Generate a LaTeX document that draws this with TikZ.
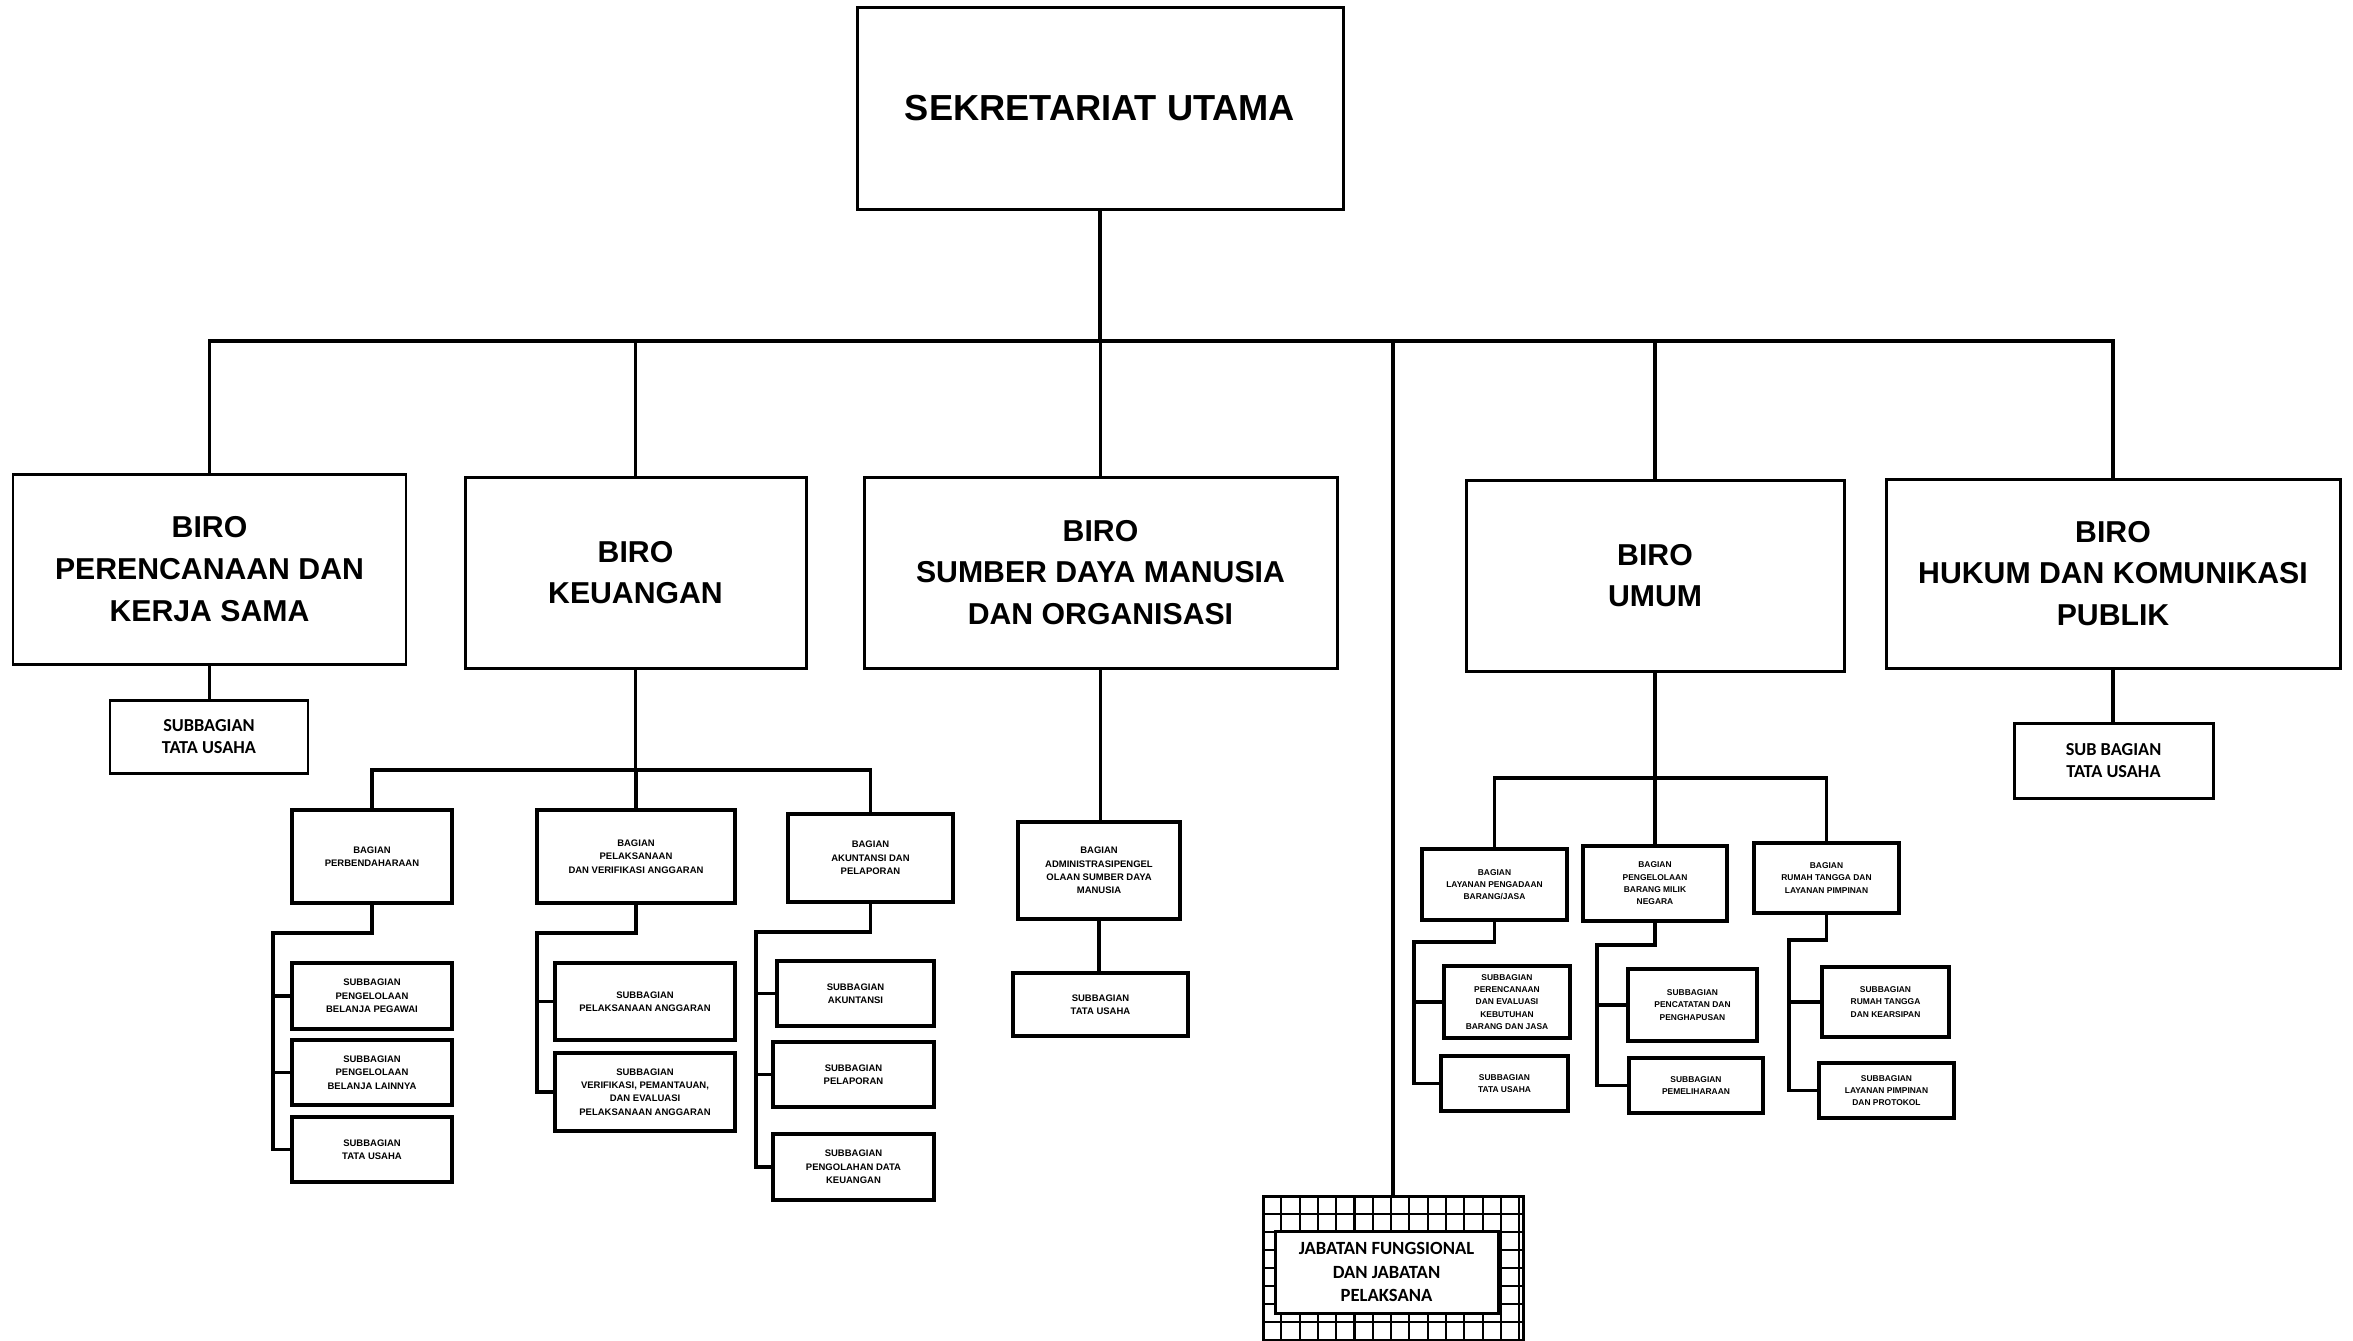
\documentclass[tikz,border=0pt]{standalone}
\usepackage{fontspec}
\setmainfont{Liberation Sans}
\newfontfamily\calibri{Carlito}
\tikzset{
  every picture/.style={line join=miter},
  box/.style={draw, line width=0.85pt, fill=white, inner sep=0pt, align=center},
  sz/.style 2 args={minimum width=#1mm, minimum height=#2mm},
  sekbox/.style={box, font=\bfseries\fontsize{10.3}{13}\selectfont},
  birobox/.style={box, font=\bfseries\fontsize{8.6}{11.9}\selectfont},
  bagbox/.style={box, line width=1.1pt, font=\bfseries\fontsize{2.7}{3.8}\selectfont},
  umbox/.style={bagbox, font=\bfseries\fontsize{2.4}{3.5}\selectfont},
  tubox/.style={box, font=\calibri\bfseries\fontsize{5.2}{6.2}\selectfont},
  jfbox/.style={box, font=\calibri\bfseries\fontsize{5.3}{6.8}\selectfont},
  link/.style={line width=0.95pt},
  gridline/.style={line width=0.6pt},
}

\begin{document}
\begin{tikzpicture}[x=0.1mm, y=-0.1mm]
\useasboundingbox (0,0) rectangle (2353,1340);

% pimpinan
\node[sekbox, sz={48.6}{20.2}] (sekum) at (1100,108) {SEKRETARIAT UTAMA};

% biro
\node[birobox, sz={39.3}{19}] (bpk) at (209.5,569) {BIRO\\PERENCANAAN DAN\\KERJA SAMA};
\node[birobox, sz={34.1}{19.1}] (bkeu) at (635.5,572.5) {BIRO\\KEUANGAN};
\node[birobox, sz={47.3}{19.1}] (bsdm) at (1100.5,572.5) {BIRO\\SUMBER DAYA MANUSIA\\DAN ORGANISASI};
\node[birobox, sz={37.8}{19.1}] (bumum) at (1655,575.5) {BIRO\\UMUM};
\node[birobox, sz={45.4}{18.9}] (bhkp) at (2113,573.5) {BIRO\\HUKUM DAN KOMUNIKASI\\PUBLIK};

% tata usaha biro
\node[tubox, sz={19.8}{7.3}] (pktu) at (209,736.5) {SUBBAGIAN\\TATA USAHA};
\node[tubox, sz={19.9}{7.5}] (hktu) at (2113.5,760.5) {SUB BAGIAN\\TATA USAHA};

% keuangan
\node[bagbox, sz={16}{9.3}] (perb) at (372,856.5) {BAGIAN\\PERBENDAHARAAN};
\node[bagbox, sz={19.8}{9.3}] (pva) at (636,856.5) {BAGIAN\\PELAKSANAAN\\DAN VERIFIKASI ANGGARAN};
\node[bagbox, sz={16.5}{8.8}] (akp) at (870.5,858) {BAGIAN\\AKUNTANSI DAN\\PELAPORAN};

\node[bagbox, sz={16}{6.6}] (pbp) at (372,996) {SUBBAGIAN\\PENGELOLAAN\\BELANJA PEGAWAI};
\node[bagbox, sz={16}{6.5}] (pbl) at (372,1072.5) {SUBBAGIAN\\PENGELOLAAN\\BELANJA LAINNYA};
\node[bagbox, sz={16}{6.5}] (ptu) at (372,1149.5) {SUBBAGIAN\\TATA USAHA};

\node[bagbox, sz={18}{7.7}] (spa) at (645,1001.5) {SUBBAGIAN\\PELAKSANAAN ANGGARAN};
\node[bagbox, sz={18}{7.8}] (vpe) at (645,1092) {SUBBAGIAN\\VERIFIKASI, PEMANTAUAN,\\DAN EVALUASI\\PELAKSANAAN ANGGARAN};

\node[bagbox, sz={15.7}{6.5}] (sak) at (855.5,993.5) {SUBBAGIAN\\AKUNTANSI};
\node[bagbox, sz={16.1}{6.5}] (slap) at (853.5,1074.5) {SUBBAGIAN\\PELAPORAN};
\node[bagbox, sz={16.1}{6.6}] (sold) at (853.5,1167) {SUBBAGIAN\\PENGOLAHAN DATA\\KEUANGAN};

% sdm
\node[bagbox, sz={16.2}{9.7}] (asdm) at (1099,870.5) {BAGIAN\\ADMINISTRASIPENGEL\\OLAAN SUMBER DAYA\\MANUSIA};
\node[bagbox, sz={17.5}{6.3}] (sdmtu) at (1100.5,1004.5) {SUBBAGIAN\\TATA USAHA};

% umum
\node[umbox, sz={14.5}{7.1}] (lpbj) at (1494.5,884.5) {BAGIAN\\LAYANAN PENGADAAN\\BARANG/JASA};
\node[umbox, sz={14.4}{7.5}] (bmn) at (1655,883.5) {BAGIAN\\PENGELOLAAN\\BARANG MILIK\\NEGARA};
\node[umbox, sz={14.5}{7}] (rtlp) at (1826.5,878) {BAGIAN\\RUMAH TANGGA DAN\\LAYANAN PIMPINAN};

\node[umbox, sz={12.6}{7.2}] (pebj) at (1507,1002) {SUBBAGIAN\\PERENCANAAN\\DAN EVALUASI\\KEBUTUHAN\\BARANG DAN JASA};
\node[umbox, sz={12.7}{5.5}] (umtu) at (1504.5,1083.5) {SUBBAGIAN\\TATA USAHA};
\node[umbox, sz={12.9}{7.2}] (spp) at (1692.5,1005) {SUBBAGIAN\\PENCATATAN DAN\\PENGHAPUSAN};
\node[umbox, sz={13.4}{5.5}] (spml) at (1696,1085.5) {SUBBAGIAN\\PEMELIHARAAN};
\node[umbox, sz={12.7}{7}] (srtk) at (1885.5,1002) {SUBBAGIAN\\RUMAH TANGGA\\DAN KEARSIPAN};
\node[umbox, sz={13.5}{5.5}] (slpp) at (1886.5,1090.5) {SUBBAGIAN\\LAYANAN PIMPINAN\\DAN PROTOKOL};

% jabatan fungsional
\node[draw, line width=0.85pt, sz={26}{20}] (jfgrid) at (1393,1296) {};
\foreach \gx in {1281.3,1299.6,...,1523} \draw[gridline] (\gx,1196) -- (\gx,1345);
\foreach \gy in {1214,1232,...,1345} \draw[gridline] (1263,\gy) -- (1523,\gy);
\node[jfbox, sz={22.3}{8.2}] (jf) at (1386.5,1272) {JABATAN FUNGSIONAL\\DAN JABATAN\\PELAKSANA};

% garis
\coordinate (bus) at (1100,341);
\draw[link] (sekum.south) -- (bus);
\draw[link] (bpk.north) |- (bus) -| (bhkp.north);
\foreach \b in {bkeu,bsdm,bumum,jfgrid} \draw[link] (\b.north) -- (\b.north |- bus);
\draw[link] (bpk.south) -- (bpk.south |- pktu.north);
\draw[link] (bhkp.south) -- (bhkp.south |- hktu.north);

\coordinate (keubar) at (636,770);
\draw[link] (bkeu.south) -- (bkeu.south |- keubar);
\draw[link] (perb.north) |- (keubar) -| (akp.north);
\draw[link] (pva.north) -- (pva.north |- keubar);

\coordinate (perbknee) at (273,933);
\draw[link] (perb.south) |- (perbknee) |- (ptu.west);
\foreach \s in {pbp,pbl} \draw[link] (perbknee |- \s.west) -- (\s.west);
\coordinate (pvaknee) at (537,933);
\draw[link] (pva.south) |- (pvaknee) |- (vpe.west);
\draw[link] (pvaknee |- spa.west) -- (spa.west);
\coordinate (akpknee) at (756,932);
\draw[link] (akp.south) |- (akpknee) |- (sold.west);
\foreach \s in {sak,slap} \draw[link] (akpknee |- \s.west) -- (\s.west);

\draw[link] (bsdm.south) -- (bsdm.south |- asdm.north);
\draw[link] (asdm.south) -- (asdm.south |- sdmtu.north);

\coordinate (umumbar) at (1655,778);
\draw[link] (bumum.south) -- (bmn.north);
\draw[link] (lpbj.north) |- (umumbar) -| (rtlp.north);
\coordinate (lpbjknee) at (1414,942);
\draw[link] (lpbj.south) |- (lpbjknee) |- (umtu.west);
\draw[link] (lpbjknee |- pebj.west) -- (pebj.west);
\coordinate (bmnknee) at (1597,945);
\draw[link] (bmn.south) |- (bmnknee) |- (spml.west);
\draw[link] (bmnknee |- spp.west) -- (spp.west);
\coordinate (rtknee) at (1789,940);
\draw[link] (rtlp.south) |- (rtknee) |- (slpp.west);
\draw[link] (rtknee |- srtk.west) -- (srtk.west);
\end{tikzpicture}
\end{document}
